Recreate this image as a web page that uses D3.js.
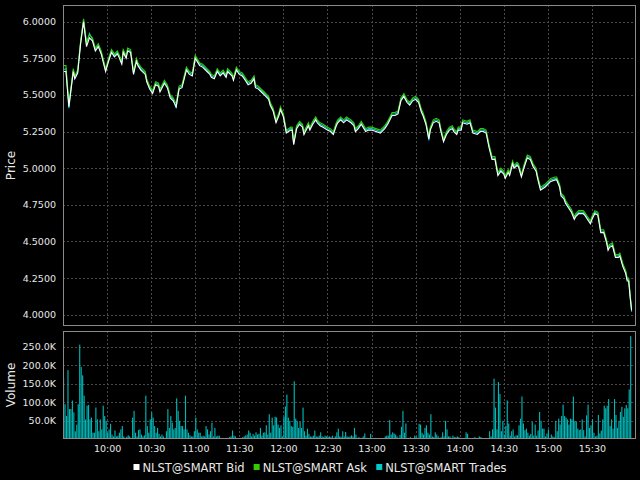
<!DOCTYPE html>
<html>
<head>
<meta charset="utf-8">
<script src="https://cdn.jsdelivr.net/npm/d3@7"></script>
<style>
  body { margin: 0; background: #000; }
  svg { display: block; }
  text { font-family: "DejaVu Sans", sans-serif; fill: #e8e8e8; }
</style>
</head>
<body>
<div id="chart"></div>
<script>
// minutes after the 9:30 open, one entry per price sample
var priceMinutes = [
    0, 2, 4, 7, 8, 10, 12, 14, 16, 18,
    20, 22, 24, 26, 27, 29, 31, 33, 35, 37,
    38, 40, 41, 43, 44, 46, 48, 50, 51, 53,
    56, 57, 59, 61, 63, 65, 66, 69, 71, 73,
    75, 77, 79, 81, 84, 86, 88, 90, 93, 95,
    98, 100, 101, 103, 105, 107, 109, 111, 112, 115,
    116, 118, 120, 122, 124, 126, 128, 130, 131, 133,
    135, 137, 140, 141, 143, 145, 147, 148, 150, 152,
    155, 156, 157, 159, 161, 163, 164, 167, 168, 170,
    172, 173, 175, 177, 180, 182, 184, 186, 187, 189,
    191, 193, 196, 198, 199, 201, 203, 206, 208, 210,
    213, 216, 219, 221, 224, 226, 228, 230, 232, 234,
    236, 238, 240, 242, 244, 245, 247, 249, 250, 252,
    254, 256, 257, 259, 261, 263, 265, 266, 268, 269,
    271, 272, 275, 277, 279, 282, 284, 286, 288, 290,
    292, 294, 296, 298, 300, 301, 303, 304, 306, 307,
    309, 310, 312, 314, 316, 318, 320, 322, 323, 325,
    328, 330, 332, 335, 336, 338, 339, 341, 342, 344,
    346, 348, 349, 351, 354, 355, 357, 359, 360, 362,
    364, 366, 368, 370, 371, 372, 374, 376, 378, 379,
    381, 383, 384, 385, 386, 387
];

var bidPrice = [
    5.66, 5.66, 5.42, 5.66, 5.61, 5.65, 5.85, 6.00, 5.83, 5.89,
    5.87, 5.80, 5.83, 5.78, 5.74, 5.66, 5.73, 5.79, 5.76, 5.78,
    5.76, 5.71, 5.79, 5.75, 5.80, 5.79, 5.64, 5.73, 5.70, 5.67,
    5.64, 5.59, 5.54, 5.51, 5.57, 5.56, 5.52, 5.58, 5.55, 5.48,
    5.46, 5.42, 5.54, 5.55, 5.67, 5.64, 5.63, 5.75, 5.70, 5.69,
    5.66, 5.64, 5.62, 5.61, 5.66, 5.63, 5.65, 5.62, 5.66, 5.63,
    5.60, 5.67, 5.64, 5.63, 5.60, 5.57, 5.58, 5.61, 5.55, 5.54,
    5.52, 5.50, 5.47, 5.43, 5.39, 5.31, 5.36, 5.40, 5.35, 5.24,
    5.26, 5.26, 5.16, 5.27, 5.30, 5.28, 5.23, 5.29, 5.26, 5.30,
    5.33, 5.31, 5.29, 5.28, 5.26, 5.25, 5.23, 5.29, 5.31, 5.33,
    5.31, 5.33, 5.31, 5.29, 5.25, 5.27, 5.30, 5.25, 5.26, 5.26,
    5.25, 5.24, 5.27, 5.30, 5.36, 5.36, 5.37, 5.46, 5.49, 5.45,
    5.43, 5.46, 5.47, 5.45, 5.38, 5.36, 5.30, 5.20, 5.26, 5.31,
    5.32, 5.31, 5.26, 5.18, 5.23, 5.26, 5.27, 5.25, 5.23, 5.26,
    5.26, 5.31, 5.30, 5.31, 5.24, 5.23, 5.25, 5.25, 5.24, 5.14,
    5.06, 5.06, 4.95, 4.98, 4.96, 4.93, 4.97, 4.95, 5.03, 5.00,
    5.02, 5.01, 4.94, 5.01, 5.07, 5.06, 5.01, 4.98, 4.93, 4.85,
    4.87, 4.89, 4.91, 4.92, 4.92, 4.87, 4.81, 4.79, 4.76, 4.73,
    4.70, 4.65, 4.67, 4.69, 4.69, 4.68, 4.65, 4.62, 4.65, 4.69,
    4.68, 4.56, 4.56, 4.49, 4.44, 4.46, 4.47, 4.39, 4.39, 4.40,
    4.33, 4.28, 4.23, 4.23, 4.12, 4.03
];

var askPrice = [
    5.70, 5.70, 5.44, 5.68, 5.63, 5.67, 5.87, 6.02, 5.86, 5.91,
    5.89, 5.82, 5.85, 5.80, 5.76, 5.68, 5.75, 5.81, 5.78, 5.80,
    5.78, 5.73, 5.81, 5.77, 5.82, 5.81, 5.66, 5.75, 5.72, 5.69,
    5.66, 5.61, 5.56, 5.53, 5.59, 5.58, 5.54, 5.60, 5.57, 5.50,
    5.48, 5.44, 5.56, 5.57, 5.69, 5.66, 5.65, 5.77, 5.72, 5.71,
    5.68, 5.66, 5.64, 5.63, 5.68, 5.65, 5.67, 5.64, 5.68, 5.65,
    5.62, 5.69, 5.66, 5.65, 5.62, 5.59, 5.60, 5.63, 5.57, 5.56,
    5.54, 5.52, 5.49, 5.45, 5.41, 5.33, 5.38, 5.42, 5.37, 5.26,
    5.28, 5.28, 5.18, 5.29, 5.32, 5.30, 5.25, 5.31, 5.28, 5.32,
    5.35, 5.33, 5.31, 5.30, 5.28, 5.27, 5.25, 5.31, 5.33, 5.35,
    5.33, 5.35, 5.33, 5.31, 5.27, 5.29, 5.32, 5.27, 5.28, 5.28,
    5.27, 5.26, 5.29, 5.32, 5.38, 5.38, 5.39, 5.48, 5.51, 5.47,
    5.45, 5.48, 5.49, 5.47, 5.40, 5.38, 5.32, 5.22, 5.28, 5.33,
    5.34, 5.33, 5.28, 5.20, 5.25, 5.28, 5.29, 5.27, 5.25, 5.28,
    5.28, 5.33, 5.32, 5.33, 5.26, 5.25, 5.27, 5.27, 5.26, 5.16,
    5.08, 5.08, 4.97, 5.00, 4.98, 4.95, 4.99, 4.97, 5.05, 5.02,
    5.04, 5.03, 4.96, 5.03, 5.09, 5.08, 5.03, 5.00, 4.95, 4.87,
    4.89, 4.91, 4.93, 4.94, 4.94, 4.89, 4.83, 4.81, 4.78, 4.75,
    4.72, 4.67, 4.69, 4.71, 4.71, 4.70, 4.67, 4.64, 4.67, 4.71,
    4.70, 4.58, 4.58, 4.51, 4.46, 4.48, 4.49, 4.41, 4.41, 4.42,
    4.35, 4.30, 4.25, 4.25, 4.14, 4.04
];

var tradePrice = [
    5.67, 5.68, 5.41, 5.67, 5.62, 5.66, 5.86, 6.01, 5.85, 5.92,
    5.88, 5.81, 5.84, 5.79, 5.75, 5.67, 5.74, 5.80, 5.77, 5.79,
    5.77, 5.72, 5.80, 5.76, 5.81, 5.80, 5.65, 5.74, 5.71, 5.68,
    5.65, 5.60, 5.55, 5.52, 5.58, 5.57, 5.53, 5.59, 5.56, 5.49,
    5.47, 5.41, 5.55, 5.56, 5.68, 5.65, 5.64, 5.76, 5.71, 5.70,
    5.67, 5.65, 5.63, 5.62, 5.67, 5.64, 5.66, 5.63, 5.67, 5.64,
    5.61, 5.68, 5.65, 5.64, 5.61, 5.58, 5.59, 5.62, 5.56, 5.55,
    5.53, 5.51, 5.48, 5.44, 5.40, 5.32, 5.37, 5.41, 5.36, 5.25,
    5.27, 5.27, 5.17, 5.28, 5.31, 5.29, 5.24, 5.30, 5.27, 5.31,
    5.34, 5.32, 5.30, 5.29, 5.27, 5.26, 5.24, 5.30, 5.32, 5.34,
    5.32, 5.34, 5.32, 5.30, 5.26, 5.28, 5.31, 5.26, 5.27, 5.27,
    5.26, 5.25, 5.28, 5.31, 5.37, 5.37, 5.38, 5.47, 5.50, 5.46,
    5.44, 5.47, 5.48, 5.46, 5.39, 5.37, 5.31, 5.19, 5.27, 5.32,
    5.33, 5.32, 5.27, 5.19, 5.24, 5.27, 5.28, 5.26, 5.24, 5.27,
    5.27, 5.32, 5.31, 5.32, 5.25, 5.24, 5.26, 5.26, 5.25, 5.15,
    5.07, 5.07, 4.96, 4.99, 4.97, 4.94, 4.98, 4.96, 5.04, 5.01,
    5.03, 5.02, 4.95, 5.02, 5.08, 5.07, 5.02, 4.99, 4.94, 4.86,
    4.88, 4.90, 4.92, 4.93, 4.93, 4.88, 4.82, 4.80, 4.77, 4.74,
    4.71, 4.66, 4.68, 4.70, 4.70, 4.69, 4.66, 4.63, 4.66, 4.70,
    4.69, 4.57, 4.57, 4.50, 4.45, 4.47, 4.48, 4.40, 4.40, 4.41,
    4.34, 4.29, 4.24, 4.24, 4.13, 4.02
];

// traded volume per minute (thousands of shares), starting at 9:30
var volumeK = [
    165, 94, 62, 186, 81, 81, 104, 72, 21, 39, 94,
    255, 195, 172, 117, 53, 90, 92, 53, 58, 17,
    17, 85, 53, 21, 53, 26, 90, 62, 49, 17,
    26, 41, 12, 7, 23, 7, 9, 17, 26, 35,
    7, 3, 6, 10, 7, 3, 58, 76, 17, 7,
    24, 26, 12, 7, 10, 117, 35, 17, 53, 72,
    58, 35, 17, 30, 14, 7, 12, 7, 3, 21,
    81, 30, 62, 44, 26, 30, 110, 76, 49, 35,
    35, 26, 117, 26, 17, 10, 7, 7, 21, 58,
    26, 17, 17, 7, 9, 7, 35, 26, 12,
    21, 44, 7, 30, 7, 9, 9, 3, 1, 3,
    2, 2, 3, 5, 7, 23, 9, 7, 1, 1,
    1, 3, 5, 7, 10, 12, 23, 17, 7, 14,
    9, 18, 12, 14, 30, 9, 17, 18, 37, 12,
    67, 17, 58, 37, 60, 58, 39, 30, 37, 7,
    60, 88, 120, 58, 49, 35, 33, 156, 55, 49,
    30, 46, 30, 85, 21, 9, 28, 14, 7, 6,
    9, 23, 7, 6, 9, 18, 7, 5, 9, 7,
    6, 7, 5, 9, 3, 7, 18, 28, 7, 5,
    21, 7, 19, 7, 5, 7, 10,
    7, 30, 12, 3, 5, 3, 3, 7, 15, 3,
    3, 2, 14, 3, 2, 3, 1, 2, 1, 2,
    3, 2, 7, 9, 9, 51, 12, 18, 15, 12,
    7, 3, 11, 33, 76, 17, 42, 3, 3, 5,
    1, 1, 9, 7, 3, 41, 39, 17, 12, 30,
    37, 17, 12, 67, 7, 5, 18, 12, 7, 3,
    5, 18, 7, 49, 26, 7, 7, 3, 9, 5,
    5, 7, 5, 3, 3, 2, 3, 18, 14, 3,
    2, 2, 3, 5, 1, 2, 7, 5, 3, 2,
    3, 1, 2, 21, 7, 26, 163, 85, 26,
    154, 122, 21, 49, 12, 35, 104, 42, 9, 21,
    26, 7, 10, 10, 37, 55, 115, 42, 24, 28,
    17, 9, 14, 46, 9, 39, 9, 23, 73, 49,
    28, 28, 7, 15, 26, 3, 12, 7, 5, 49,
    21, 55, 39, 62, 93, 62, 58, 53, 39, 55,
    53, 115, 49, 46, 28, 24, 26, 53, 24, 7,
    64, 93, 30, 37, 53, 17, 7, 9, 65, 15,
    23, 53, 90, 83, 90, 108, 35, 53, 28, 108,
    65, 30, 49, 73, 87, 60, 83, 92, 83, 134,
    278
];

var priceTicks = [4.0, 4.25, 4.5, 4.75, 5.0, 5.25, 5.5, 5.75, 6.0];
var volumeTicks = [50000, 100000, 150000, 200000, 250000];
var timeTicks = ["10:00", "10:30", "11:00", "11:30", "12:00", "12:30", "13:00",
                 "13:30", "14:00", "14:30", "15:00", "15:30"];

var seriesNames = ["NLST@SMART Bid", "NLST@SMART Ask", "NLST@SMART Trades"];
var seriesColors = ["#ffffff", "#33cc00", "#00cccc"];

var width = 640, height = 480;
var left = 63, right = 636;
var priceTop = 5, priceBottom = 326;
var volTop = 331, volBottom = 439;

var day = new Date(2013, 0, 2);
function atClock(hhmm) {
    var p = hhmm.split(":");
    return new Date(day.getFullYear(), day.getMonth(), day.getDate(), +p[0], +p[1]);
}
var openTime = atClock("9:30");
function atMinute(m) {
    return d3.timeMinute.offset(openTime, m);
}

var svg = d3.select("#chart").append("svg")
    .attr("width", width).attr("height", height);

svg.append("rect").attr("width", width).attr("height", height).attr("fill", "#000");

var x = d3.scaleTime()
    .domain([openTime, atClock("16:00")])
    .range([left, right]);

var yPrice = d3.scaleLinear()
    .domain([3.9227, 6.114])
    .range([priceBottom, priceTop]);

var yVol = d3.scaleLinear()
    .domain([0, 292000])
    .range([volBottom, volTop]);

var tickDates = timeTicks.map(atClock);

function drawGrid(g, yScale, yTicks, top, bottom) {
    g.selectAll(".vgrid").data(tickDates).enter().append("line")
        .attr("x1", function (d) { return Math.round(x(d)) + 0.5; })
        .attr("x2", function (d) { return Math.round(x(d)) + 0.5; })
        .attr("y1", top).attr("y2", bottom)
        .attr("stroke", "#4a4a4a").attr("stroke-dasharray", "2,2");
    g.selectAll(".hgrid").data(yTicks).enter().append("line")
        .attr("x1", left).attr("x2", right)
        .attr("y1", function (d) { return Math.round(yScale(d)) + 0.5; })
        .attr("y2", function (d) { return Math.round(yScale(d)) + 0.5; })
        .attr("stroke", "#4a4a4a").attr("stroke-dasharray", "2,2");
}

// price panel
var pricePanel = svg.append("g");
drawGrid(pricePanel, yPrice, priceTicks, priceTop, priceBottom);

svg.append("clipPath").attr("id", "priceClip")
    .append("rect").attr("x", left).attr("y", priceTop)
    .attr("width", right - left).attr("height", priceBottom - priceTop);

var line = d3.line()
    .x(function (d) { return x(atMinute(d[0])); })
    .y(function (d) { return yPrice(d[1]); });

function pairs(values) {
    return priceMinutes.map(function (m, i) { return [m, values[i]]; });
}

// draw trades first, then ask, with the bid on top
[[tradePrice, seriesColors[2]], [askPrice, seriesColors[1]], [bidPrice, seriesColors[0]]]
    .forEach(function (s) {
        pricePanel.append("path")
            .attr("d", line(pairs(s[0])))
            .attr("fill", "none")
            .attr("stroke", s[1])
            .attr("stroke-width", 1.1)
            .attr("clip-path", "url(#priceClip)");
    });

pricePanel.append("rect")
    .attr("x", left + 0.5).attr("y", priceTop + 0.5)
    .attr("width", right - left - 1).attr("height", priceBottom - priceTop - 1)
    .attr("fill", "none").attr("stroke", "#8a8a8a");

var yPriceAxis = d3.axisLeft(yPrice).tickValues(priceTicks)
    .tickFormat(d3.format(".4f")).tickSize(0).tickPadding(7);
pricePanel.append("g").attr("transform", "translate(" + left + ",0)")
    .call(yPriceAxis)
    .call(function (g) { g.select(".domain").remove(); })
    .selectAll("text").style("font-size", "9.5px").attr("fill", "#e8e8e8");

svg.append("text")
    .attr("transform", "translate(15," + ((priceTop + priceBottom) / 2) + ") rotate(-90)")
    .attr("text-anchor", "middle")
    .style("font-size", "12px")
    .text("Price");

// volume panel
var volPanel = svg.append("g");
drawGrid(volPanel, yVol, volumeTicks, volTop, volBottom);

var step = x(atMinute(1)) - x(atMinute(0));
volPanel.selectAll(".bar").data(volumeK).enter().append("rect")
    .attr("x", function (d, i) { return x(atMinute(i)); })
    .attr("y", function (d) { return yVol(d * 1000); })
    .attr("width", Math.max(1, step - 0.35))
    .attr("height", function (d) { return volBottom - yVol(d * 1000); })
    .attr("fill", "#00b8b8");

volPanel.append("rect")
    .attr("x", left + 0.5).attr("y", volTop + 0.5)
    .attr("width", right - left - 1).attr("height", volBottom - volTop - 1)
    .attr("fill", "none").attr("stroke", "#8a8a8a");

var yVolAxis = d3.axisLeft(yVol).tickValues(volumeTicks)
    .tickFormat(function (d) { return (d / 1000).toFixed(1) + "K"; })
    .tickSize(0).tickPadding(7);
volPanel.append("g").attr("transform", "translate(" + left + ",0)")
    .call(yVolAxis)
    .call(function (g) { g.select(".domain").remove(); })
    .selectAll("text").style("font-size", "9.5px").attr("fill", "#e8e8e8");

svg.append("text")
    .attr("transform", "translate(15," + ((volTop + volBottom) / 2) + ") rotate(-90)")
    .attr("text-anchor", "middle")
    .style("font-size", "12px")
    .text("Volume");

var xAxis = d3.axisBottom(x).tickValues(tickDates)
    .tickFormat(d3.timeFormat("%H:%M")).tickSize(0).tickPadding(6);
svg.append("g").attr("transform", "translate(0," + volBottom + ")")
    .call(xAxis)
    .call(function (g) { g.select(".domain").remove(); })
    .selectAll("text").style("font-size", "9.5px").attr("fill", "#e8e8e8");

// legend
var legend = svg.append("g").attr("transform", "translate(0,467)");
var items = legend.selectAll(".item").data(seriesNames).enter().append("g");
items.append("rect")
    .attr("x", 0).attr("y", -3).attr("width", 6).attr("height", 6)
    .attr("fill", function (d, i) { return seriesColors[i]; });
items.append("text")
    .attr("x", 9).attr("y", 4.5)
    .style("font-size", "11.5px")
    .text(function (d) { return d; });

var widths = [];
items.each(function () { widths.push(this.getBBox().width); });
var gap = 9;
var total = d3.sum(widths) + gap * (widths.length - 1);
var cursor = (width - total) / 2;
items.attr("transform", function (d, i) {
    var pos = cursor;
    cursor += widths[i] + gap;
    return "translate(" + pos + ",0)";
});
</script>
</body>
</html>
